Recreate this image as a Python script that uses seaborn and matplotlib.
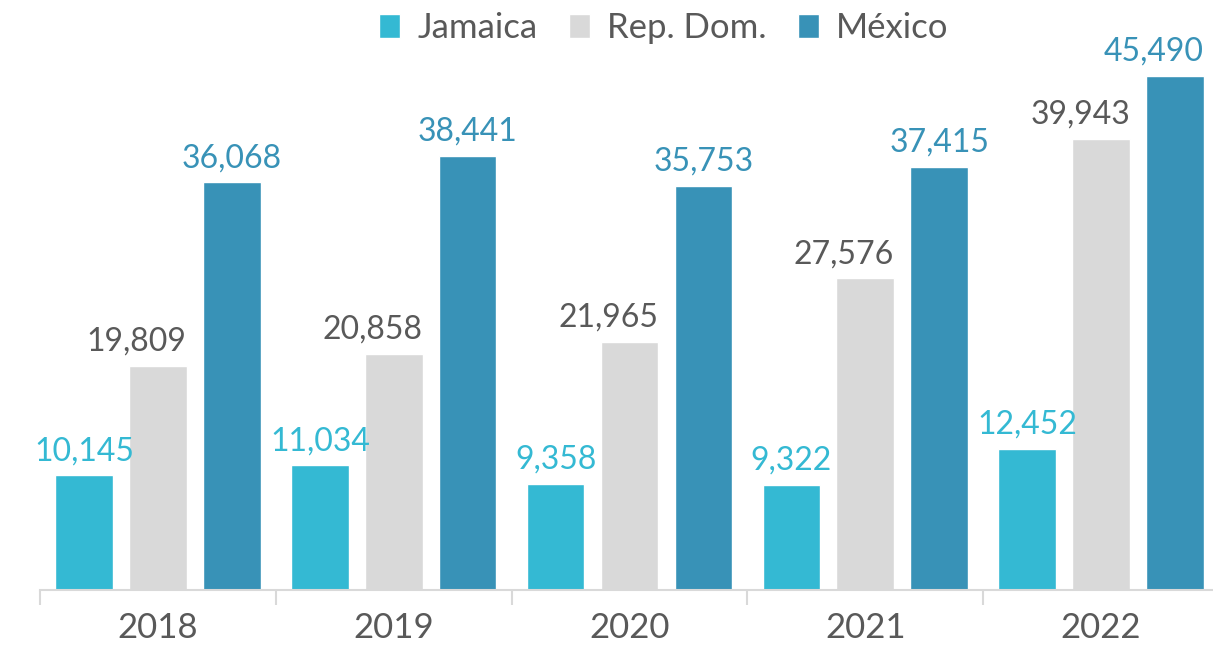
import pandas as pd
import numpy as np
import matplotlib
matplotlib.use("Agg")
import matplotlib.pyplot as plt
import seaborn as sns

# Données
years = ["2018", "2019", "2020", "2021", "2022"]
series = ["Jamaica", "Rep. Dom.", "México"]
jamaica = [10145, 11034, 9358, 9322, 12452]
rep_dom = [19809, 20858, 21965, 27576, 39943]
mexico = [36068, 38441, 35753, 37415, 45490]

colors = {"Jamaica": "#34B9D3", "Rep. Dom.": "#D9D9D9", "México": "#3892B7"}
label_colors = {"Jamaica": "#34B9D3", "Rep. Dom.": "#595959", "México": "#3892B7"}

df = pd.DataFrame({
    "Year": years * 3,
    "Serie": ["Jamaica"] * 5 + ["Rep. Dom."] * 5 + ["México"] * 5,
    "Value": jamaica + rep_dom + mexico,
})

sns.set_style("white")
plt.rcParams["font.family"] = ["Lato", "DejaVu Sans"]

W, H = 1213, 648
fig = plt.figure(figsize=(W / 100, H / 100), dpi=100)
ax = fig.add_axes([40 / W, 58 / H, 1179 / W, 565 / H])

sns.barplot(data=df, x="Year", y="Value", hue="Serie", hue_order=series,
            palette=colors, width=0.94, gap=0.22, ax=ax, legend=True,
            saturation=1, errorbar=None)

ax.set_xlim(-0.5, 4.5)
ax.set_ylim(0, 50000)

# Étiquettes de valeurs
for container, name in zip(ax.containers, series):
    n = len(container)
    for i, bar in enumerate(container):
        h = bar.get_height()
        x = bar.get_x() + bar.get_width() / 2
        ha = "center"
        # Rep. Dom. : étiquette alignée à droite de la barre ; dernière barre México aussi (bord)
        if name == "Rep. Dom." or (name == "México" and i == n - 1):
            x = bar.get_x() + bar.get_width()
            ha = "right"
        ax.annotate(f"{h:,.0f}", (x, h), xytext=(0, 11), textcoords="offset points",
                    ha=ha, va="baseline", fontsize=23, color=label_colors[name],
                    clip_on=False, annotation_clip=False)

# Axes
for s in ["left", "right", "top"]:
    ax.spines[s].set_visible(False)
ax.spines["bottom"].set_color("#D9D9D9")
ax.spines["bottom"].set_linewidth(1.5)
ax.set_yticks([])
ax.set_xlabel("")
ax.set_ylabel("")
ax.set_xticks(np.arange(-0.5, 5, 1), minor=True)
ax.tick_params(axis="x", which="minor", bottom=True, length=11, width=1.5, color="#D9D9D9")
ax.tick_params(axis="x", which="major", length=0, pad=16, labelsize=25, labelcolor="#595959")

# Légende
handles, labels = ax.get_legend_handles_labels()
ax.legend_.remove()
leg = fig.legend(handles, labels, loc="center", bbox_to_anchor=(664 / W, 1 - 28 / H),
                 ncol=3, frameon=False, fontsize=25, handlelength=0.6, handleheight=0.7,
                 handletextpad=0.5, columnspacing=0.9)
for t in leg.get_texts():
    t.set_color("#595959")

fig.savefig("out.png", dpi=100)
